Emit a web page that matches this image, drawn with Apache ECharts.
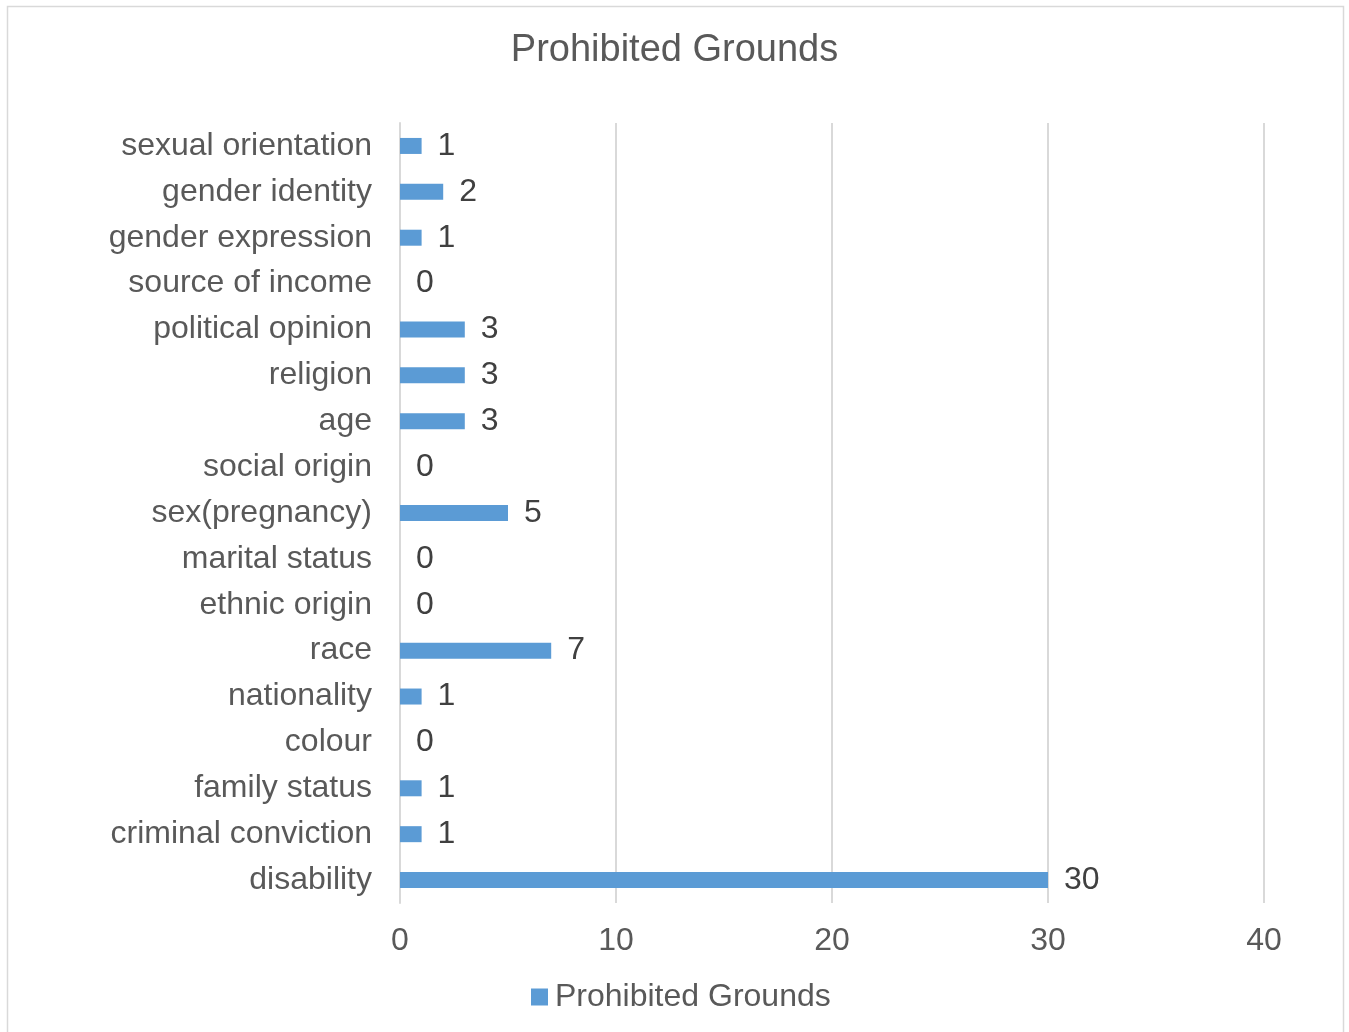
<!DOCTYPE html>
<html>
<head>
<meta charset="utf-8">
<script src="https://cdn.jsdelivr.net/npm/echarts@6/dist/echarts.min.js"></script>
<style>
html,body{margin:0;padding:0;background:#fff;}
#chart{width:1349px;height:1032px;}
</style>
</head>
<body>
<div id="chart"></div>
<script>
const categories = ["sexual orientation","gender identity","gender expression","source of income","political opinion","religion","age","social origin","sex(pregnancy)","marital status","ethnic origin","race","nationality","colour","family status","criminal conviction","disability"];
const values = [1,2,1,0,3,3,3,0,5,0,0,7,1,0,1,1,30];
const xTicks = [0,10,20,30,40];
const seriesName = "Prohibited Grounds";
const titleText = "Prohibited Grounds";

const chart = echarts.init(document.getElementById('chart'));
const font = "'Liberation Sans', Arial, sans-serif";
chart.setOption({
  animation: false,
  textStyle: {fontFamily: font},
  graphic: [{
    type: 'rect',
    shape: {x: 7.5, y: 6.5, width: 1336, height: 1040},
    style: {fill: 'none', stroke: '#D9D9D9', lineWidth: 1.5},
    silent: true
  }],
  title: {
    text: titleText,
    left: 'center',
    top: 27,
    textStyle: {fontFamily: font, fontSize: 38, fontWeight: 'normal', color: '#595959'}
  },
  legend: {
    data: [seriesName],
    top: 976,
    left: 526,
    icon: 'rect',
    itemWidth: 17,
    itemHeight: 17,
    itemGap: 6,
    textStyle: {fontFamily: font, fontSize: 32, color: '#595959', padding: [0,0,0,2]}
  },
  grid: {left: 400, right: 85, top: 123, height: 780, containLabel: false},
  xAxis: {
    type: 'value',
    min: xTicks[0],
    max: xTicks[xTicks.length-1],
    interval: 10,
    axisLine: {show: false},
    axisTick: {show: false},
    splitLine: {show: true, lineStyle: {color: '#D9D9D9', width: 2}},
    axisLabel: {fontFamily: font, fontSize: 32, color: '#595959', margin: 22}
  },
  yAxis: {
    type: 'category',
    inverse: true,
    data: categories,
    axisLine: {show: true, lineStyle: {color: '#D9D9D9', width: 2}},
    axisTick: {show: false},
    axisLabel: {fontFamily: font, fontSize: 32, color: '#595959', margin: 28, padding: [5,0,0,0]}
  },
  series: [{
    name: seriesName,
    type: 'bar',
    data: values,
    barWidth: 16,
    itemStyle: {color: '#5B9BD5'},
    label: {
      show: true,
      position: 'right',
      distance: 16,
      fontFamily: font,
      fontSize: 32,
      color: '#404040',
      padding: [6,0,0,0]
    }
  }]
});
</script>
</body>
</html>
